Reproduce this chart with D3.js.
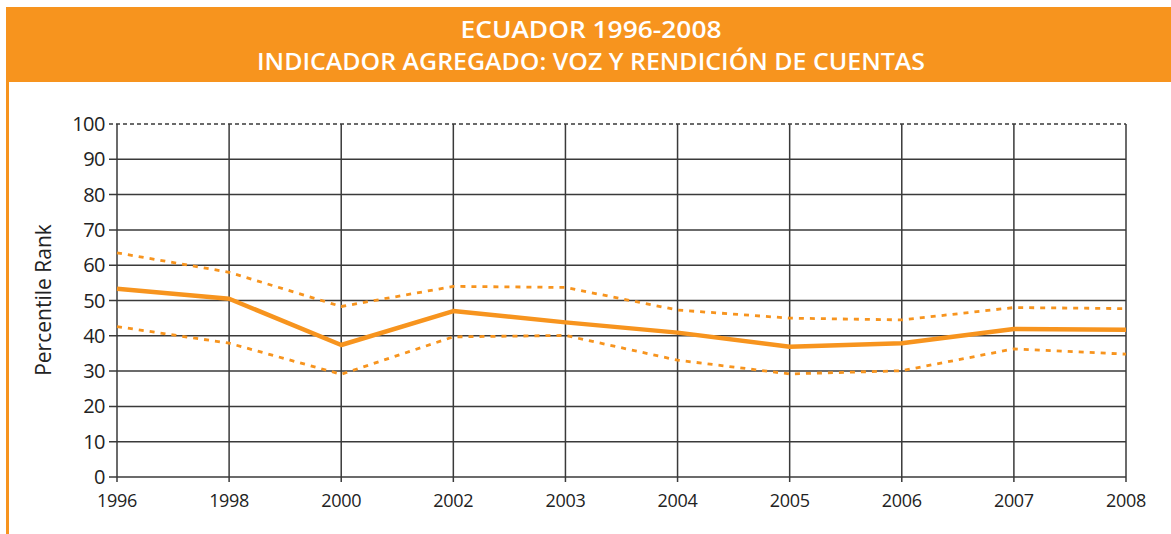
<!DOCTYPE html>
<html><head><meta charset="utf-8">
<script src="https://cdn.jsdelivr.net/npm/d3@7"></script>
<style>body{margin:0;background:#fff}svg{display:block}</style>
</head><body>
<svg id="chart" width="1171" height="534"></svg>
<script>
const years = ["1996","1998","2000","2002","2003","2004","2005","2006","2007","2008"];
const rankValues = [53.3, 50.5, 37.4, 47.0, 43.8, 40.9, 36.9, 37.9, 41.9, 41.7];
const upperValues = [63.5, 58.0, 48.3, 54.0, 53.7, 47.3, 45.0, 44.5, 48.0, 47.7];
const lowerValues = [42.6, 37.9, 29.1, 39.7, 40.1, 33.1, 29.2, 30.1, 36.3, 34.8];
const yTicks = [0,10,20,30,40,50,60,70,80,90,100];
const titleLines = ["ECUADOR 1996-2008", "INDICADOR AGREGADO: VOZ Y RENDICIÓN DE CUENTAS"];
const yLabel = "Percentile Rank";

const orange = "#F7941E";
const svg = d3.select("#chart");
const font = "'Open Sans', sans-serif";

// header band
svg.append("rect").attr("x",6).attr("y",7).attr("width",1171).attr("height",75).attr("fill",orange);
svg.append("rect").attr("x",6).attr("y",82).attr("width",3).attr("height",452).attr("fill",orange);
const titleW = [261, 668];
svg.selectAll("text.title").data(titleLines).join("text")
  .attr("class","title")
  .attr("x",591).attr("y",(d,i)=>38+i*32)
  .attr("text-anchor","middle")
  .attr("fill","#fff")
  .attr("textLength",(d,i)=>titleW[i])
  .attr("lengthAdjust","spacingAndGlyphs")
  .style("font-family",font)
  .style("font-weight","600")
  .style("font-size","24px")
  .text(d=>d);

const x = d3.scalePoint().domain(years).range([117,1126]);
const y = d3.scaleLinear().domain([0,100]).range([477,124]);

const g = svg.append("g");
// horizontal grid
g.selectAll("line.h").data(yTicks).join("line")
  .attr("x1",109).attr("x2",1126)
  .attr("y1",d=>y(d)).attr("y2",d=>y(d))
  .attr("stroke","#3a3a3a").attr("stroke-width",1.5)
  .attr("stroke-dasharray",d=>d===100?"4,3":null);
// vertical grid
g.selectAll("line.v").data(years).join("line")
  .attr("x1",d=>x(d)).attr("x2",d=>x(d))
  .attr("y1",y(100)).attr("y2",y(0)+5)
  .attr("stroke","#3a3a3a").attr("stroke-width",1.5);

// y labels
g.selectAll("text.yl").data(yTicks).join("text")
  .attr("x",105).attr("y",d=>y(d)+7)
  .attr("text-anchor","end").attr("fill","#222")
  .style("font-family",font).style("font-size","20px")
  .style("letter-spacing","-0.5px")
  .text(d=>d);
// x labels
g.selectAll("text.xl").data(years).join("text")
  .attr("x",d=>x(d)).attr("y",507)
  .attr("text-anchor","middle").attr("fill","#222")
  .style("font-family",font).style("font-size","18px")
  .style("letter-spacing","-0.3px")
  .text(d=>d);
// axis title
svg.append("text").attr("transform","translate(51,300) rotate(-90)")
  .attr("text-anchor","middle").attr("fill","#222")
  .style("font-family",font).style("font-size","21px")
  .text(yLabel);

const line = d3.line().x((d,i)=>x(years[i])).y(d=>y(d));
[[upperValues,true],[lowerValues,true],[rankValues,false]].forEach(([vals,dash])=>{
  svg.append("path").datum(vals).attr("d",line)
    .attr("fill","none").attr("stroke",orange)
    .attr("stroke-width",dash?2.8:4.5)
    .attr("stroke-linejoin","round")
    .attr("stroke-dasharray",dash?"5,6":null);
});
</script>
</body></html>
